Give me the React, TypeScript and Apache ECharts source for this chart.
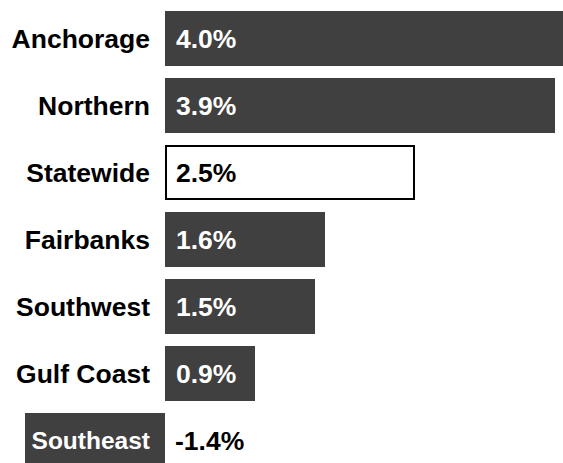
import React, { useEffect, useRef } from "react";
import * as echarts from "echarts";

const regions = ["Anchorage", "Northern", "Statewide", "Fairbanks", "Southwest", "Gulf Coast", "Southeast"];
const growth = [4.0, 3.9, 2.5, 1.6, 1.5, 0.9, -1.4];
const highlight = "Statewide";

export default function App() {
  const ref = useRef<HTMLDivElement>(null);
  useEffect(() => {
    if (!ref.current) return;
    const chart = echarts.init(ref.current, undefined, { renderer: "svg" });
    const font = "'Liberation Sans', Arial, Helvetica, sans-serif";
    const fs = 26.5;
    chart.setOption({
      animation: false,
      backgroundColor: "#ffffff",
      grid: { left: 5, top: 5, width: 580, height: 469, containLabel: false, outerBoundsMode: "none" },
      xAxis: {
        type: "value",
        min: -1.6,
        max: 4.2,
        show: false,
      },
      yAxis: {
        type: "category",
        data: regions,
        inverse: true,
        axisLine: { show: false },
        axisTick: { show: false },
        splitLine: { show: false },
        position: "left",
        offset: -160,
        axisLabel: {
          margin: 15,
          fontFamily: font,
          fontWeight: "bold",
          fontSize: fs,
          formatter: (v: string, i: number) => (growth[i] < 0 ? `{neg|${v}}` : `{pos|${v}}`),
          rich: {
            pos: { fontFamily: font, fontWeight: "bold", fontSize: fs, color: "#000000" },
            neg: { fontFamily: font, fontWeight: "bold", fontSize: 24.5, color: "#ffffff" },
          },
        },
        z: 10,
      },
      series: [
        {
          type: "bar",
          barWidth: 55,
          data: growth.map((v, i) => {
            const isHi = regions[i] === highlight;
            const item: any = {
              value: v,
              itemStyle: isHi
                ? { color: "#ffffff", borderColor: "#000000", borderWidth: 2 }
                : { color: "#404040" },
              label: {
                show: true,
                position: v < 0 ? "right" : "insideLeft",
                distance: v < 0 ? 10 : 11,
                color: isHi || v < 0 ? "#000000" : "#ffffff",
              },
            };
            return item;
          }),
          label: {
            show: true,
            fontFamily: font,
            fontWeight: "bold",
            fontSize: fs,
            formatter: (p: any) => `${Number(p.value).toFixed(1)}%`,
          },
        },
      ],
    });
    return () => chart.dispose();
  }, []);
  return <div ref={ref} style={{ position: "absolute", left: 0, top: 0, width: 563, height: 463 }} />;
}
